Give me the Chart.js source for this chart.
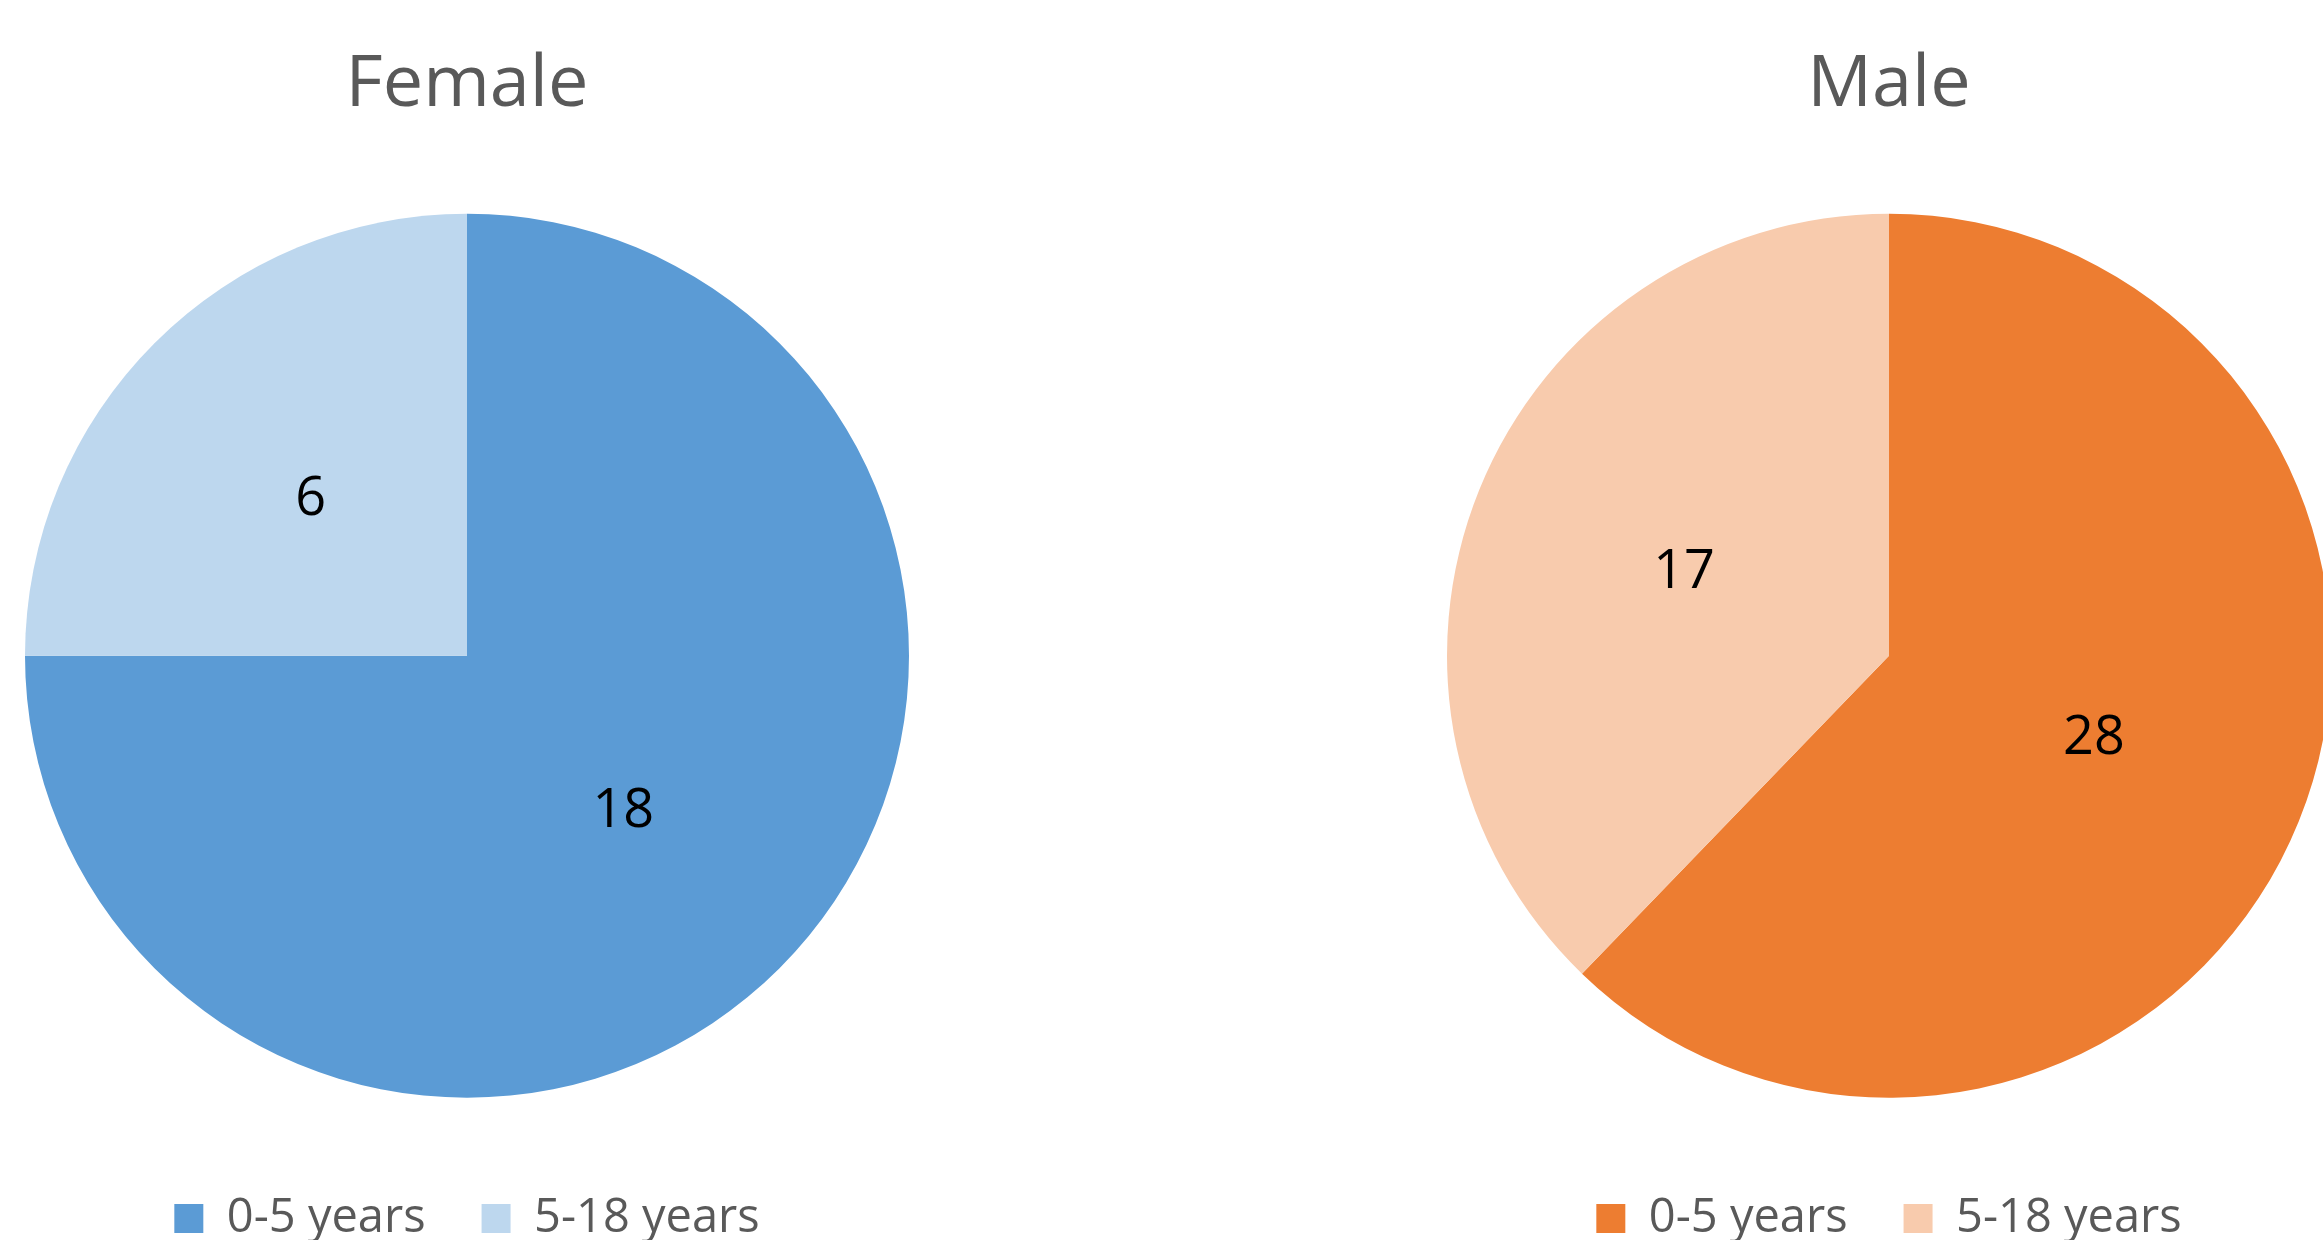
<!DOCTYPE html>
<html>
<head>
<meta charset="utf-8">
<script src="https://cdn.jsdelivr.net/npm/chart.js@4.4.1/dist/chart.umd.min.js"></script>
<style>
  html, body { margin: 0; padding: 0; background: #ffffff; }
  body { width: 2323px; height: 1240px; overflow: hidden; position: relative; }
  .pie-box { position: absolute; top: 0; width: 934px; height: 1252px; }
</style>
</head>
<body>
<div class="pie-box" style="left:0px;"><canvas id="femaleChart"></canvas></div>
<div class="pie-box" style="left:1422px;"><canvas id="maleChart"></canvas></div>
<script>
// --- data ---
const ageGroups = ['0-5 years', '5-18 years'];
const femaleCounts = [18, 6];
const maleCounts = [28, 17];
const femaleColors = ['#5B9BD5', '#BDD7EE'];
const maleColors = ['#ED7D31', '#F8CBAD'];

// value labels in the middle of each slice
const sliceLabels = {
    id: 'sliceLabels',
    afterDatasetsDraw(chart) {
        const ctx = chart.ctx;
        const meta = chart.getDatasetMeta(0);
        const values = chart.data.datasets[0].data;
        ctx.save();
        ctx.font = '54px "Open Sans"';
        ctx.fillStyle = '#000000';
        ctx.textAlign = 'center';
        ctx.textBaseline = 'middle';
        meta.data.forEach(function (arc, i) {
            const p = arc.getCenterPoint();
            ctx.fillText(String(values[i]), p.x, p.y);
        });
        ctx.restore();
    }
};

function createPie(canvasId, title, counts, colors) {
    const ctx = document.getElementById(canvasId).getContext('2d');
    return new Chart(ctx, {
        type: 'pie',
        data: {
            labels: ageGroups,
            datasets: [{
                data: counts,
                backgroundColor: colors,
                borderWidth: 0
            }]
        },
        options: {
            responsive: true,
            maintainAspectRatio: false,
            animation: false,
            radius: 442,
            layout: { padding: 0 },
            plugins: {
                title: {
                    display: true,
                    text: title,
                    color: '#595959',
                    font: { family: 'Open Sans', size: 72, weight: 'normal' },
                    padding: { top: 42, bottom: 44 }
                },
                legend: {
                    position: 'bottom',
                    labels: {
                        color: '#595959',
                        font: { family: 'Open Sans', size: 47 },
                        boxWidth: 29,
                        boxHeight: 29,
                        padding: 56
                    }
                },
                tooltip: { enabled: false }
            }
        },
        plugins: [sliceLabels]
    });
}

createPie('femaleChart', 'Female', femaleCounts, femaleColors);
createPie('maleChart', 'Male', maleCounts, maleColors);
</script>
</body>
</html>
